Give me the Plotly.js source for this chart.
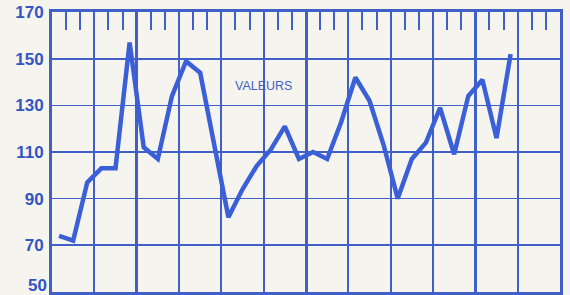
<!DOCTYPE html>
<html>
<head>
<meta charset="utf-8">
<script src="https://cdn.plot.ly/plotly-3.0.1.min.js"></script>
<style>html,body{margin:0;padding:0;background:#f6f4ef;}#chart{width:570px;height:295px;}</style>
</head>
<body>
<div id="chart"></div>
<script>
// weekly positions (index within 36 subdivisions)
var weeks = [];
for (var i = 0; i < 33; i++) { weeks.push(i + 0.5); }
var valeurs = [74, 72, 97, 103, 103, 157, 112, 107, 134, 149, 144, 114, 82, 94, 104, 111, 121, 107, 110, 107, 123, 142, 132, 113, 90, 107, 114, 129, 109, 134, 141, 116, 152];
var yTicks = [50, 70, 90, 110, 130, 150, 170];
var label = "VALEURS";

var blue = "#4060c8";
var lineBlue = "#3a5fd6";
var tickFont = {family: "Liberation Sans", size: 17, color: "#3355c4", weight: "bold"};

var data = [
  {x: weeks, y: valeurs, type: "scatter", mode: "lines",
   line: {color: lineBlue, width: 4.5, shape: "linear"}, hoverinfo: "skip"},
  {x: [0], y: [60], xaxis: "x2", type: "scatter", mode: "none", hoverinfo: "skip", showlegend: false},
  {x: [0], y: [60], xaxis: "x3", type: "scatter", mode: "none", hoverinfo: "skip", showlegend: false}
];

var layout = {
  width: 570, height: 295,
  margin: {l: 52, r: 10, t: 12, b: 3, pad: 0},
  paper_bgcolor: "#f6f4ef",
  plot_bgcolor: "#f6f4ef",
  showlegend: false,
  xaxis: {range: [0, 36], tick0: 0, dtick: 3, showgrid: true, gridcolor: blue, gridwidth: 1.8,
          zeroline: false, showticklabels: false, ticks: "", showline: true, linecolor: blue, linewidth: 3, mirror: true, fixedrange: true},
  xaxis2: {overlaying: "x", matches: "x", range: [0, 36], tick0: 6, dtick: 12, showgrid: true, gridcolor: blue, gridwidth: 3,
           zeroline: false, showticklabels: false, ticks: "", showline: false},
  xaxis3: {overlaying: "x", matches: "x", side: "top", range: [0, 36], tick0: 0, dtick: 1, showgrid: false,
           ticks: "inside", ticklen: 18, tickwidth: 2, tickcolor: blue, zeroline: false, showticklabels: false, showline: false},
  yaxis: {range: [49.9, 170.1], tickvals: yTicks, ticktext: yTicks.map(String), showgrid: true, gridcolor: blue, gridwidth: 1.8,
          zeroline: false, ticks: "", ticklabelstandoff: 2, showline: true, linecolor: blue, linewidth: 3, mirror: true,
          tickfont: tickFont, fixedrange: true},
  annotations: [
    {text: label, x: 15.0, y: 138.3, xref: "x", yref: "y", showarrow: false,
     font: {family: "Liberation Sans", size: 12.5, color: "#4461c4"}},
    {text: String(yTicks[0]), x: 0, xref: "paper", xanchor: "right", xshift: -3, y: yTicks[0], yref: "y", yshift: 6,
     showarrow: false, font: tickFont}
  ]
};

Plotly.newPlot("chart", data, layout, {staticPlot: true, displayModeBar: false});
</script>
</body>
</html>
